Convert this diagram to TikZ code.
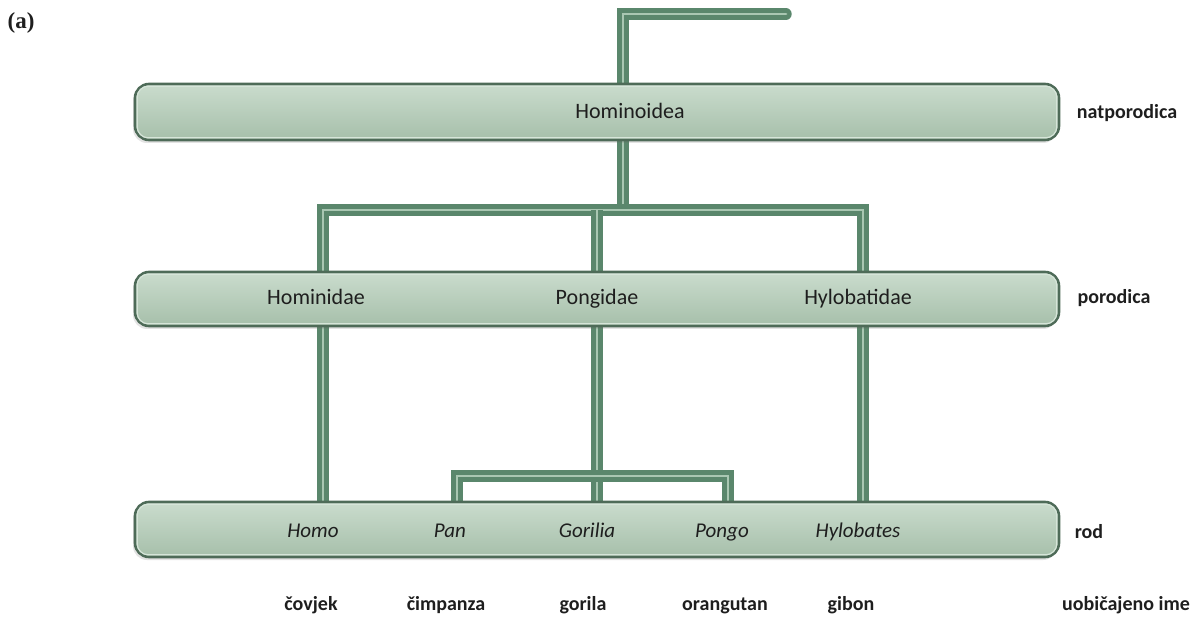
\documentclass[tikz,border=0pt]{standalone}
\usepackage{fontspec}
\setmainfont{Carlito}
\newfontfamily\serifa{Liberation Serif}
\usetikzlibrary{shadows}
\definecolor{pipedark}{HTML}{5A876C}
\definecolor{pipelight}{HTML}{A9C7B2}
\definecolor{barborder}{HTML}{4E6B58}
\definecolor{bartop}{HTML}{CADCCD}
\definecolor{barbot}{HTML}{A6BFAA}
\definecolor{barinner}{HTML}{D6E5D9}
\definecolor{txt}{HTML}{1E1E1E}
\tikzset{
  pipe/.style={draw=pipedark, line width=4.3pt, double=pipelight, double distance=2.8pt, line join=miter},
  barbox/.style={draw=barborder, line width=2.6pt, rounded corners=14pt, top color=bartop, bottom color=barbot,
     minimum width=924pt, inner sep=0pt,
     drop shadow={shadow xshift=-2pt, shadow yshift=-3pt, opacity=0.18, fill=black!60}},
  barinset/.style={draw=barinner, line width=1.2pt, rounded corners=11pt},
  lab/.style={text=txt, font=\fontsize{22}{26}\selectfont, inner sep=0pt, anchor=base},
  genus/.style={text=txt, font=\fontsize{21}{25}\selectfont\itshape, inner sep=0pt, anchor=base},
  side/.style={text=txt, font=\fontsize{20}{24}\selectfont\bfseries, inner sep=0pt, anchor=base},
}
\begin{document}
\begin{tikzpicture}[x=1pt, y=-1pt]
\useasboundingbox (0,0) rectangle (1199,617);
% x positions of the vertical pipes
\coordinate (xtop) at (623,0);
\coordinate (xl) at (323,0);
\coordinate (xm) at (597,0);
\coordinate (xr) at (863,0);
\coordinate (xpan) at (457,0);
\coordinate (xpongo) at (728,0);
\coordinate (topend) at (786,14);
\coordinate (j1) at (623,210);
\coordinate (j2) at (597,476);

% bar centres
\path (597,112) coordinate (c1) (597,299) coordinate (c2) (597,529.5) coordinate (c3);

% pipes
\draw[pipe, line cap=round] (xtop |- c1) -- (xtop |- topend) -- (topend);
\draw[pipe] (xtop |- c1) -- (j1);
\draw[pipe] (xl |- c2) -- (xl |- j1) -- (xr |- j1) -- (xr |- c2);
\draw[pipe] (xm |- j1) -- (xm |- c2);
\draw[pipe] (xl |- c2) -- (xl |- c3);
\draw[pipe] (xm |- c2) -- (xm |- c3);
\draw[pipe] (xr |- c2) -- (xr |- c3);
\draw[pipe] (xpan |- c3) -- (xpan |- j2) -- (xpongo |- j2) -- (xpongo |- c3);

% bars
\node[barbox, minimum height=56pt] (bar1) at (c1) {};
\node[barbox, minimum height=54pt] (bar2) at (c2) {};
\node[barbox, minimum height=55pt] (bar3) at (c3) {};
\foreach \b in {bar1,bar2,bar3}
  \draw[barinset] ([shift={(3.5,3.5)}]\b.north west) rectangle ([shift={(-3.5,-3.5)}]\b.south east);

% labels in bars (base line positions)
\node[lab] (hominoidea) at (630,119) {Hominoidea};
\node[lab] (hominidae) at (316,305) {Hominidae};
\node[lab] (pongidae) at (597,305) {Pongidae};
\node[lab] (hylobatidae) at (858,305) {Hylobatidae};
\node[genus] (homo) at (313,537) {Homo};
\node[genus] (pan) at (450,537) {Pan};
\node[genus] (gorilia) at (587,537) {Gorilia};
\node[genus] (pongo) at (722,537) {Pongo};
\node[genus] (hylobates) at (858,537) {Hylobates};

% common names
\node[side] (covjek) at (311,610) {čovjek};
\node[side] (cimpanza) at (446,610) {čimpanza};
\node[side] (gorila) at (583,610) {gorila};
\node[side] (orangutan) at (725,610) {orangutan};
\node[side] (gibon) at (851,610) {gibon};

% side labels
\node[side] (natporodica) at (1127,119) {natporodica};
\node[side] (porodica) at (1114,304) {porodica};
\node[side] (rod) at (1089,538) {rod};
\node[side] (uobicajeno) at (1126,610) {uobičajeno ime};

\node[text=txt, inner sep=0pt, anchor=base] (a) at (21,29) {\fontsize{23}{27}\selectfont\serifa\bfseries (a)};
\end{tikzpicture}
\end{document}
